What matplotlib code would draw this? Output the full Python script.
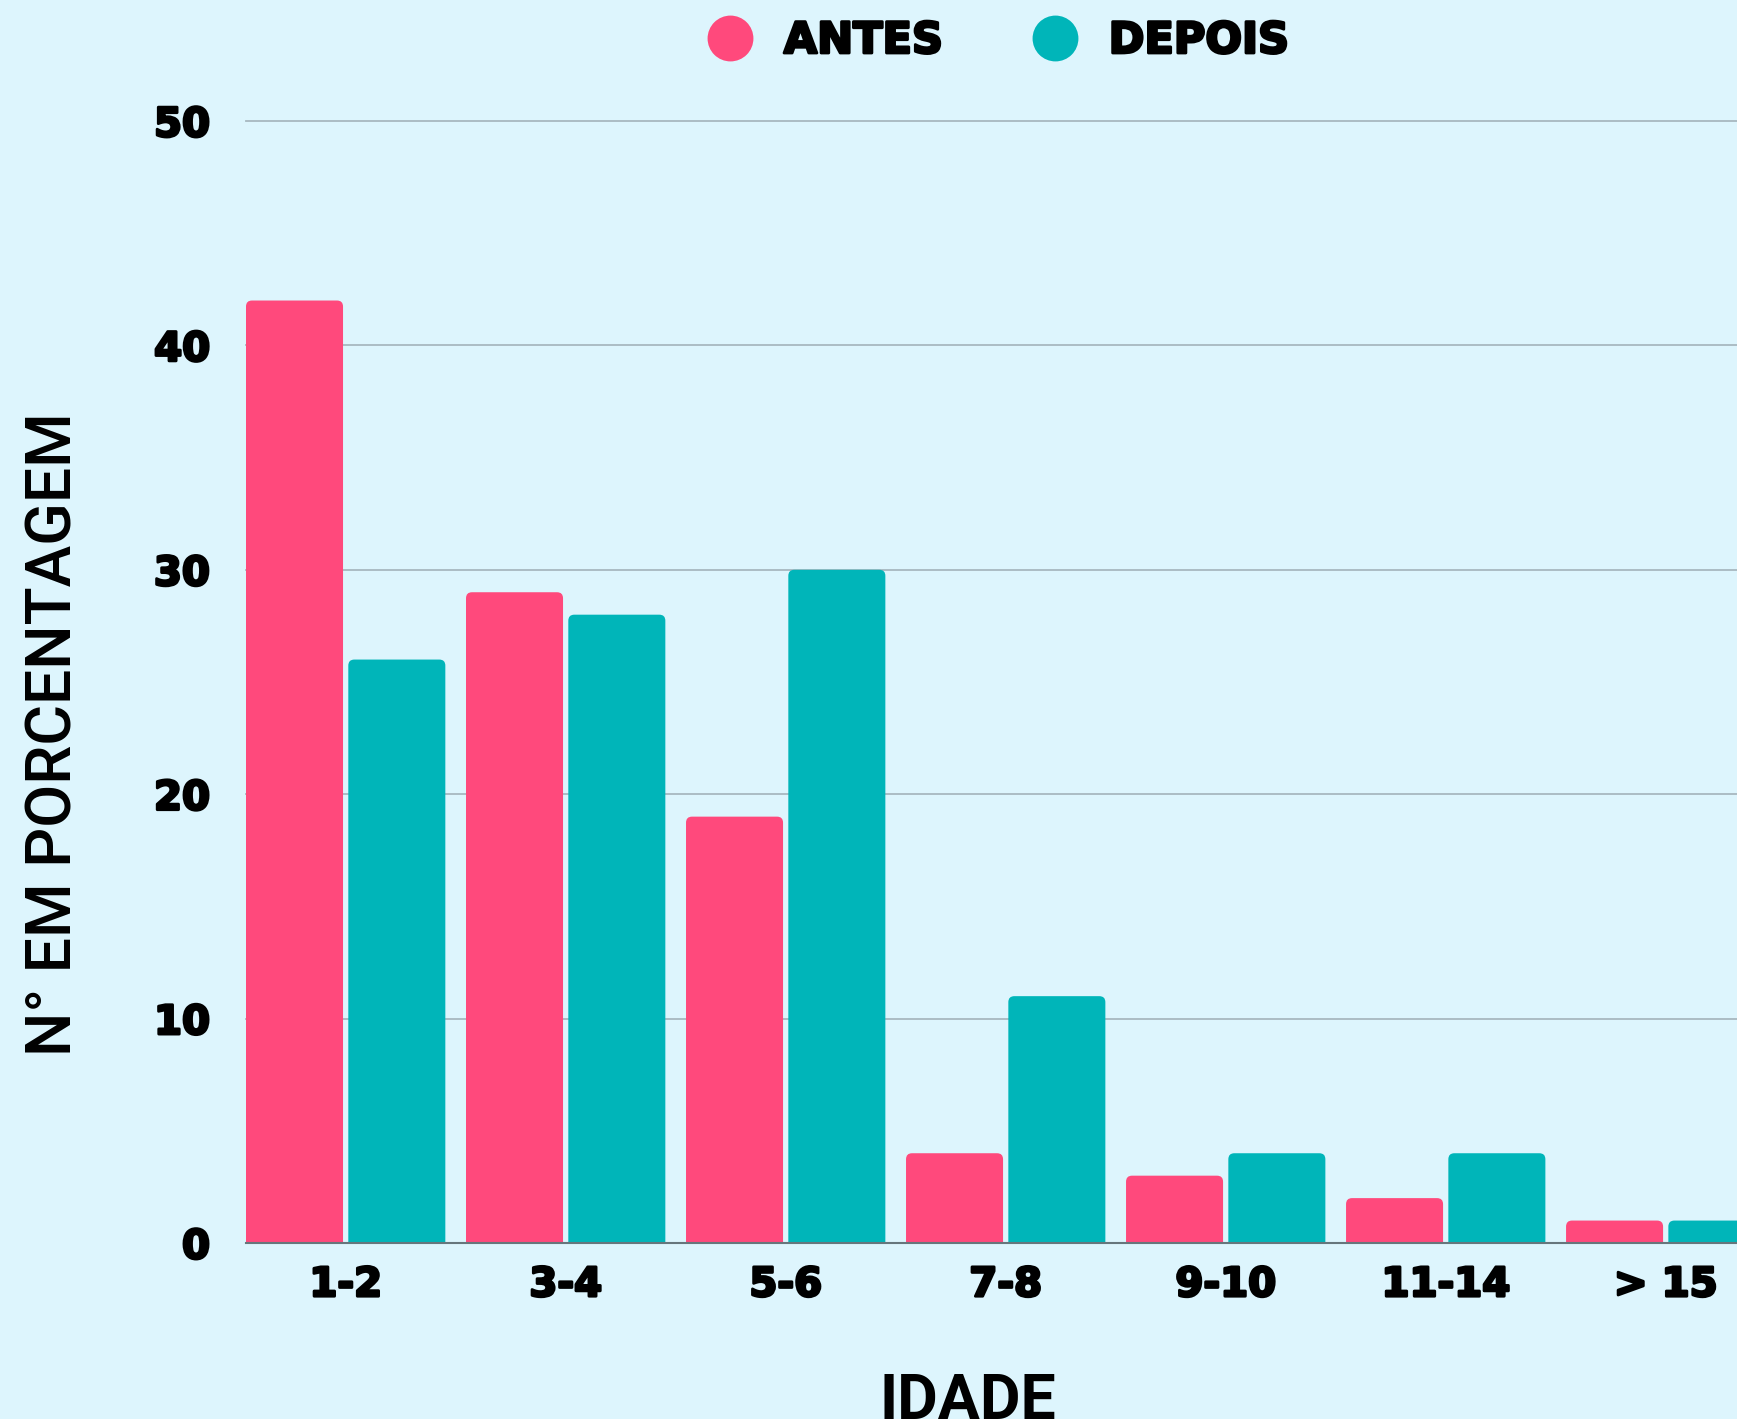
import numpy as np
import matplotlib.pyplot as plt
import matplotlib.patheffects as pe
from matplotlib.patches import FancyBboxPatch
from matplotlib.lines import Line2D

categories = ["1-2", "3-4", "5-6", "7-8", "9-10", "11-14", "> 15"]
antes = [42, 29, 19, 4, 3, 2, 1]
depois = [26, 28, 30, 11, 4, 4, 1]
y_ticks = [0, 10, 20, 30, 40, 50]

PINK = "#FF497C"
TEAL = "#00B5B9"
BG = "#DDF5FD"
HEAVY = [pe.withStroke(linewidth=2.0, foreground="black")]


def round_tops(ax, bars, color, px_radius=6):
    """Swap plain bars for patches with slightly rounded top corners"""
    bbox = ax.get_window_extent()
    x0, x1 = ax.get_xlim()
    y0, y1 = ax.get_ylim()
    x_per_px = (x1 - x0) / bbox.width
    y_per_px = (y1 - y0) / bbox.height
    r = px_radius * x_per_px
    aspect = y_per_px / x_per_px
    for rect in bars:
        x, w, h = rect.get_x(), rect.get_width(), rect.get_height()
        ry = r * aspect
        patch = FancyBboxPatch((x, -ry), w, h + ry,
                               boxstyle=f"round,pad=0,rounding_size={r}",
                               mutation_aspect=aspect, fc=color, ec="none",
                               zorder=3)
        ax.add_patch(patch)
        rect.set_visible(False)


def main():
    fig = plt.figure(figsize=(17.37, 14.19), dpi=100, facecolor=BG)
    ax = fig.add_axes([246 / 1737, 176 / 1419, 1 - 246 / 1737, (1243 - 121) / 1419])
    ax.set_facecolor(BG)

    x = np.arange(len(categories))
    w = 0.441
    off = 0.2325
    b1 = ax.bar(x - off, antes, w, color=PINK, zorder=3)
    b2 = ax.bar(x + off, depois, w, color=TEAL, zorder=3)

    ax.set_xlim(-0.453, 6.324)
    ax.set_ylim(0, 50)
    fig.canvas.draw()
    round_tops(ax, b1, PINK)
    round_tops(ax, b2, TEAL)

    ax.set_yticks(y_ticks)
    ax.yaxis.grid(True, color="#A7B8BF", linewidth=1.3, zorder=0)
    for gl in ax.get_ygridlines():
        gl.set_clip_on(False)
    ax.set_axisbelow(True)
    for s in ["top", "right", "left"]:
        ax.spines[s].set_visible(False)
    ax.spines["bottom"].set_color("#66767c")
    ax.spines["bottom"].set_linewidth(1.5)
    ax.spines["bottom"].set_zorder(4)

    ax.set_xticks(x)
    ax.set_xticklabels(categories)
    ax.tick_params(axis="both", length=0, labelsize=29, colors="black")
    ax.tick_params(axis="x", pad=16)
    ax.tick_params(axis="y", pad=26)
    for lab in ax.get_xticklabels() + ax.get_yticklabels():
        lab.set_fontweight("heavy")
        lab.set_family("DejaVu Sans")
        lab.set_path_effects(HEAVY)

    fig.text(55 / 1737, 1 - 734 / 1419, "N° EM PORCENTAGEM", rotation=90,
             ha="center", va="center", fontsize=45, fontweight="medium",
             family=["Roboto", "DejaVu Sans"])
    fig.text(968 / 1737, 1 - 1402 / 1419, "IDADE", ha="center", va="center",
             fontsize=45, fontweight="bold",
             family=["Roboto", "DejaVu Sans"])

    handles = [Line2D([], [], marker="o", ls="none", markersize=33,
                      markerfacecolor=c, markeredgecolor="none")
               for c in [PINK, TEAL]]
    leg = fig.legend(handles, ["ANTES", "DEPOIS"], loc="center",
                     bbox_to_anchor=(988 / 1737, 1 - 41 / 1419), ncol=2,
                     frameon=False, handletextpad=0.25, columnspacing=1.6,
                     prop={"size": 31, "weight": "heavy", "family": "DejaVu Sans"})
    for t in leg.get_texts():
        t.set_path_effects(HEAVY)

    fig.savefig("out.png", dpi=100, facecolor=BG)


if __name__ == "__main__":
    main()
